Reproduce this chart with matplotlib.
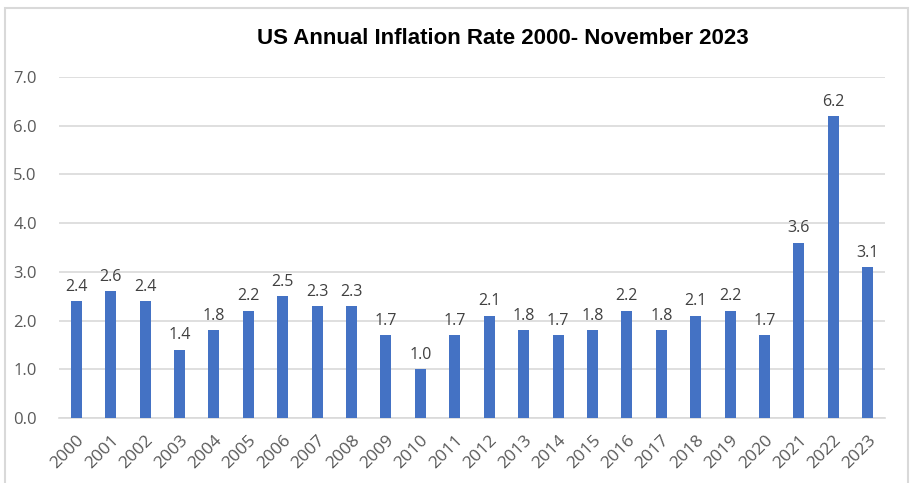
import matplotlib.pyplot as plt
from matplotlib.patches import Rectangle

years = [str(y) for y in range(2000, 2024)]
rates = [2.4, 2.6, 2.4, 1.4, 1.8, 2.2, 2.5, 2.3, 2.3, 1.7, 1.0, 1.7,
         2.1, 1.8, 1.7, 1.8, 2.2, 1.8, 2.1, 2.2, 1.7, 3.6, 6.2, 3.1]
yticks = [0, 1, 2, 3, 4, 5, 6, 7]

plt.rcParams['font.family'] = ['Open Sans', 'DejaVu Sans']

fig = plt.figure(figsize=(9.14, 4.83), dpi=100)
ax = fig.add_axes([59/914, 1 - 418/483, (885 - 59)/914, (418 - 77)/483])

# outer chart border
fig.patches.append(Rectangle((5/914, -0.05), (908 - 5)/914, 1.05 - 8/483,
                             transform=fig.transFigure, fill=False,
                             edgecolor='#d9d9d9', linewidth=1.5))

x = range(len(years))
ax.bar(x, rates, width=0.32, color='#4472C4', zorder=3)
for xi, v in zip(x, rates):
    ax.text(xi, v + 0.13, f'{v:.1f}', ha='center', va='bottom',
            fontsize=11.5, color='#404040')

ax.set_xlim(-0.5, len(years) - 0.5)
ax.set_ylim(0, 7)
ax.set_yticks(yticks)
ax.set_yticklabels([f'{t:.1f}' for t in yticks], fontsize=12, color='#595959')
ax.set_xticks(list(x))
ax.set_xticklabels(years, rotation=45, ha='right', rotation_mode='anchor',
                   fontsize=12.5, color='#595959')
ax.tick_params(axis='y', length=0, pad=16)
ax.tick_params(axis='x', length=0, pad=10)
ax.grid(axis='y', color='#d9d9d9', linewidth=1.2, zorder=0)
for s in ['top', 'right', 'left']:
    ax.spines[s].set_visible(False)
ax.spines['bottom'].set_color('#d9d9d9')
ax.spines['bottom'].set_linewidth(1.2)

fig.text(503/914, 1 - 38/483, 'US Annual Inflation Rate 2000- November 2023',
         ha='center', va='center', fontsize=16, fontweight='bold',
         family=['Liberation Sans', 'DejaVu Sans'])

fig.savefig('out.png', dpi=100)
